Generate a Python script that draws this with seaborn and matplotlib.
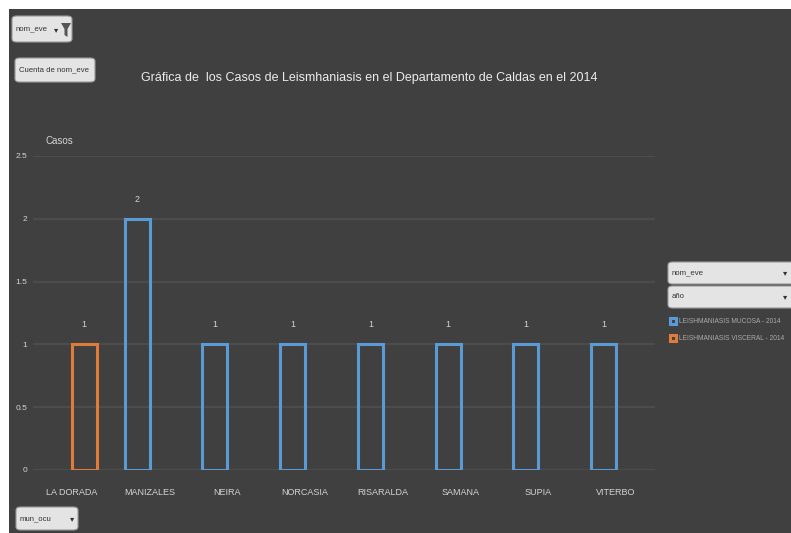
import pandas as pd
import matplotlib.pyplot as plt
import seaborn as sns
from matplotlib.patches import Rectangle, FancyBboxPatch, Polygon

# datos del grafico
municipios = ["LA DORADA", "MANIZALES", "NEIRA", "NORCASIA", "RISARALDA", "SAMANA", "SUPIA", "VITERBO"]
eventos = ["LEISHMANIASIS VISCERAL - 2014", "LEISHMANIASIS MUCOSA - 2014", "LEISHMANIASIS MUCOSA - 2014",
           "LEISHMANIASIS MUCOSA - 2014", "LEISHMANIASIS MUCOSA - 2014", "LEISHMANIASIS MUCOSA - 2014",
           "LEISHMANIASIS MUCOSA - 2014", "LEISHMANIASIS MUCOSA - 2014"]
casos = [1, 2, 1, 1, 1, 1, 1, 1]
orden_eventos = ["LEISHMANIASIS MUCOSA - 2014", "LEISHMANIASIS VISCERAL - 2014"]
colores = ["#5b9bd5", "#e07b39"]
yticks = [0, 0.5, 1, 1.5, 2, 2.5]

df = pd.DataFrame({"mun_ocu": municipios, "evento": eventos, "casos": casos})

fondo = "#404040"
texto = "#d4d4d4"
sns.set_theme(style="dark", rc={"axes.facecolor": fondo, "figure.facecolor": "white",
                                "text.color": texto, "xtick.color": texto, "ytick.color": texto})
plt.rcParams["font.family"] = ["Liberation Sans", "DejaVu Sans"]

W, H = 791, 533
fig = plt.figure(figsize=(7.91, 5.33), dpi=100)
# fondo oscuro con el borde blanco arriba y a la izquierda
fig.patches.append(Rectangle((9 / W, 0), 1, 1 - 9 / H, transform=fig.transFigure,
                             facecolor=fondo, edgecolor="none", zorder=-10))
ax = fig.add_axes([33 / W, 63 / H, 622 / W, 314 / H])

sns.barplot(data=df, x="mun_ocu", y="casos", hue="evento", hue_order=orden_eventos,
            order=municipios, palette=colores, fill=False, dodge=True, width=0.64,
            linewidth=2.2, ax=ax)

for cont in ax.containers:
    ax.bar_label(cont, fmt="%g", padding=11, fontsize=6.5, color=texto)

ax.set_ylim(0, 2.5)
ax.set_yticks(yticks)
ax.set_yticklabels([f"{v:g}" for v in yticks], fontsize=6)
ax.tick_params(axis="x", labelsize=6.5, pad=13, length=0)
ax.tick_params(axis="y", pad=4, length=0)
ax.set_xlabel("")
ax.set_ylabel("")
ax.grid(axis="y", color="#4c4c4c", linewidth=1.6)
ax.set_facecolor("none")
for s in ax.spines.values():
    s.set_visible(False)

# leyenda a la derecha
sns.move_legend(ax, "upper left", bbox_to_anchor=(670 / W, 1 - 318 / H),
                bbox_transform=fig.transFigure, title=None, frameon=False, fontsize=4.8,
                handlelength=0.9, handleheight=0.9, handletextpad=0.4, labelspacing=1.5,
                borderaxespad=0, borderpad=0)
for t in ax.get_legend().get_texts():
    t.set_color("#aaaaaa")

# titulo y rotulos
fig.text(369 / W, 1 - 78 / H,
         "Gráfica de  los Casos de Leismhaniasis en el Departamento de Caldas en el 2014",
         ha="center", va="center", fontsize=9, color="#ececec")
fig.text(45 / W, 1 - 141 / H, "Casos", ha="left", va="center", fontsize=7, color=texto)


def boton(x0, y0, x1, y1, etiqueta, flecha=False):
    fig.patches.append(FancyBboxPatch((x0 / W, 1 - y1 / H), (x1 - x0) / W, (y1 - y0) / H,
                                      boxstyle="round,pad=0,rounding_size=0.006",
                                      transform=fig.transFigure, fc="#e4e4e4", ec="#9a9a9a", lw=0.8))
    fig.text((x0 + 4) / W, 1 - (y0 + y1) / 2 / H, etiqueta, ha="left", va="center",
             fontsize=5.6, color="#333333")
    if flecha:
        fig.text((x1 - 6) / W, 1 - (y0 + y1) / 2 / H, "▾", ha="center", va="center",
                 fontsize=6, color="#333333", family=["DejaVu Sans"])


# botones de campo de la tabla dinamica
boton(12, 16, 72, 42, "nom_eve")
fig.text(56 / W, 1 - 30 / H, "▾", ha="center", va="center", fontsize=6,
         color="#333333", family=["DejaVu Sans"])
# icono de filtro (embudo)
fig.patches.append(Polygon([(61 / W, 1 - 23 / H), (71 / W, 1 - 23 / H),
                            (67.5 / W, 1 - 29 / H), (67.5 / W, 1 - 37 / H),
                            (64.5 / W, 1 - 35 / H), (64.5 / W, 1 - 29 / H)],
                           closed=True, transform=fig.transFigure, fc="#555555", ec="none",
                           zorder=5))
boton(15, 58, 95, 82, "Cuenta de nom_eve")
boton(16, 507, 78, 530, "mun_ocu", flecha=True)
boton(668, 262, 810, 284, "nom_eve")
fig.text(785 / W, 1 - 273 / H, "▾", ha="center", va="center", fontsize=6,
         color="#333333", family=["DejaVu Sans"])
boton(668, 286, 810, 308, "año")
fig.text(785 / W, 1 - 297 / H, "▾", ha="center", va="center", fontsize=6,
         color="#333333", family=["DejaVu Sans"])

fig.savefig("out.png", dpi=100)
